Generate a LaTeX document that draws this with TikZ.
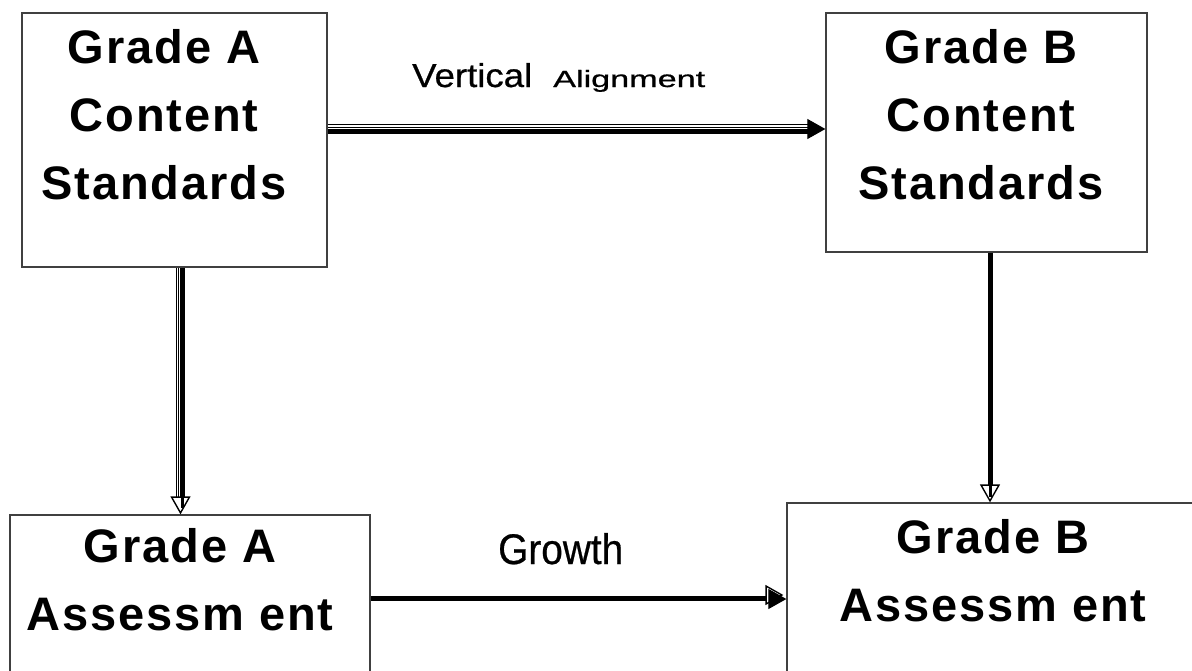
\documentclass[tikz,border=0pt]{standalone}
\usepackage{fontspec}
\setmainfont{Liberation Sans}
\newfontfamily\boxfont[LetterSpace=4]{Liberation Sans}
\newfontfamily\lblfont[FakeBold=0.6]{Liberation Sans}
\usetikzlibrary{arrows.meta,calc}
\begin{document}
\begin{tikzpicture}[x=1pt,y=-1pt,
  box/.style={draw=black!75, line width=1.3pt, rectangle, inner sep=0pt, minimum width=#1},
  boxtext/.style={align=center, inner sep=0pt, font=\boxfont\bfseries\fontsize{47}{68}\selectfont},
  lbl/.style={inner sep=0pt, anchor=base west, font=\lblfont},
  thickline/.style={line width=5pt},
  blackhead/.style={line width=1pt, -{Triangle[length=18pt,width=20pt]}},
  frontline/.style={draw=black, double=white, double distance=1.4pt, line width=0.9pt},
  openhead/.style={line width=1.4pt, -{Triangle[open, fill=white, length=18pt, width=20pt]}}
]
\useasboundingbox[fill=white] (0,0) rectangle (1192,670);
% boxes
\node[box=305pt, minimum height=254pt] (ca) at (174.5,140) {};
\node[box=321pt, minimum height=239pt] (cb) at (986.5,132.5) {};
\node[box=360pt, minimum height=200pt] (aa) at (190,615) {};
\node[box=440pt, minimum height=210pt] (bb) at (1007,608) {};
% box texts
\node[boxtext] (tca) at (164,115) {Grade A\\Content\\Standards};
\node[boxtext] (tcb) at (981,115) {Grade B\\Content\\Standards};
\node[boxtext] (taa) at (180,580) {Grade A\\Assessm ent};
\node[boxtext] (tbb) at (993,571) {Grade B\\Assessm ent};
% labels
\node[lbl] (lv) at (412,87) {\resizebox{120pt}{24pt}{Vertical}};
\node[lbl] (la) at (553,87) {\resizebox{152pt}{17pt}{Alignment}};
\node[lbl] (lg) at (498,564) {\resizebox{125pt}{31pt}{Growth}};
% helper coordinates
\coordinate (ytop) at (0,126);
\coordinate (ygr) at (0,598);
% Vertical Alignment arrow
\draw[thickline] ([yshift=-5pt]ca.east |- ytop) -- ([xshift=-14pt,yshift=-5pt]cb.west |- ytop);
\draw[frontline] (ca.east |- ytop) -- ([xshift=-14pt]cb.west |- ytop);
\draw[blackhead] ([xshift=-18pt,yshift=-3pt]cb.west |- ytop) -- ([yshift=-3pt]cb.west |- ytop);
% Grade A down arrow
\draw[thickline] ([xshift=8pt]ca.south) -- ([xshift=8pt,yshift=12pt]ca.south |- aa.north);
\draw[frontline] ([xshift=3pt]ca.south) -- ([xshift=3pt,yshift=16pt]ca.south |- aa.north);
\draw[openhead] ([xshift=6pt,yshift=20pt]ca.south |- aa.north) -- ([xshift=6pt]ca.south |- aa.north);
\draw[line width=3pt] ([xshift=8pt,yshift=16pt]ca.south |- aa.north) -- ([xshift=8pt,yshift=6pt]ca.south |- aa.north);
% Grade B down arrow
\draw[thickline] ([xshift=3.5pt]cb.south) -- ([xshift=3.5pt,yshift=12pt]cb.south |- bb.north);
\draw[openhead] ([xshift=3.5pt,yshift=20pt]cb.south |- bb.north) -- ([xshift=3.5pt]cb.south |- bb.north);
\draw[line width=3pt] ([xshift=3.5pt,yshift=16pt]cb.south |- bb.north) -- ([xshift=3.5pt,yshift=5pt]cb.south |- bb.north);
% Growth arrow
\draw[thickline] (aa.east |- ygr) -- ([xshift=-12pt]bb.west |- ygr);
\draw[openhead] ([xshift=-20pt,yshift=3pt]bb.west |- ygr) -- ([xshift=-3pt,yshift=3pt]bb.west |- ygr);
\draw[blackhead] ([xshift=-14pt,yshift=-1pt]bb.west |- ygr) -- ([yshift=-1pt]bb.west |- ygr);
\end{tikzpicture}
\end{document}
